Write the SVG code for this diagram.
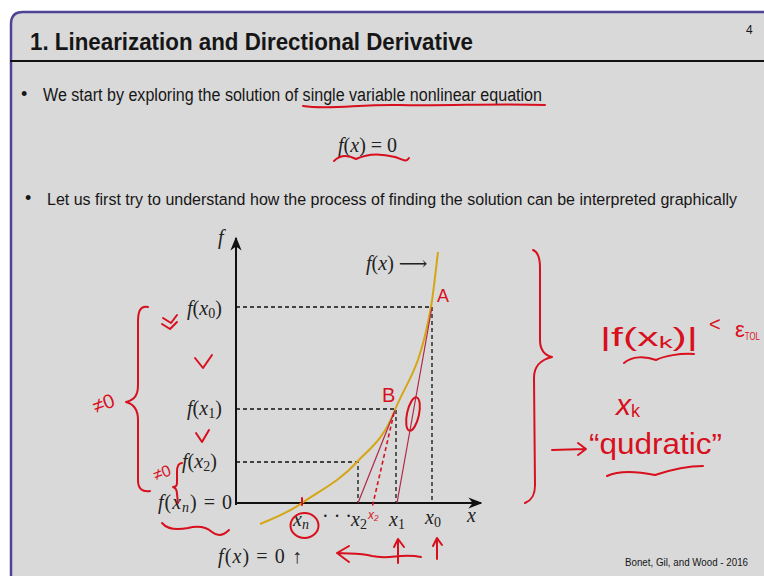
<svg xmlns="http://www.w3.org/2000/svg" width="764" height="576" viewBox="0 0 764 576">
<style>
.slide{font-family:"Liberation Sans Narrow","Liberation Sans",Arial,sans-serif;fill:#161616}
.m{font-family:"Liberation Serif","DejaVu Serif",serif;font-size:20px;fill:#222}
.i{font-style:italic}
.hw{font-family:"Liberation Sans","DejaVu Sans",sans-serif;fill:#d8101e}
.red{fill:none;stroke:#d8101e;stroke-width:2;stroke-linecap:round;stroke-linejoin:round}
.dash{fill:none;stroke:#111;stroke-width:1.3;stroke-dasharray:4 3}
.tan{fill:none;stroke:#b02848;stroke-width:1.2}
</style>
<defs>
<marker id="ah" viewBox="0 0 10 10" refX="9" refY="5" markerWidth="7" markerHeight="7" orient="auto-start-reverse">
<path d="M0 1 L10 5 L0 9 L3 5 Z" fill="#111"/>
</marker>
</defs>
<rect width="764" height="576" fill="#ffffff"/>
<path d="M10 576 L10 24 Q10 11 23 11 L764 11 L764 576 Z" fill="#d9d9d9"/>
<path d="M11 576 L11 24 Q11 12 23 12 L764 12" fill="none" stroke="#4f4597" stroke-width="2.5"/>
<line x1="10" y1="61" x2="764" y2="61" stroke="#111" stroke-width="2"/>
<g id="title">
<text class="slide" x="30" y="50" font-size="24" font-weight="bold" textLength="443" lengthAdjust="spacingAndGlyphs">1. Linearization and Directional Derivative</text>
<text class="slide" x="746" y="34" font-size="12">4</text>
</g>
<g id="bullets">
<text class="slide" x="21" y="100" font-size="18">•</text>
<text class="slide" x="43" y="101" font-size="18" textLength="499" lengthAdjust="spacingAndGlyphs">We start by exploring the solution of single variable nonlinear equation</text>
<text class="m" x="338" y="152" font-size="22"><tspan class="i">f</tspan>(<tspan class="i">x</tspan>) = 0</text>
<text class="slide" x="25" y="204" font-size="18">•</text>
<text class="slide" transform="scale(0.85 1)" x="55.3" y="205" font-size="17" textLength="811.8" lengthAdjust="spacingAndGlyphs">Let us first try to understand how the process of finding the solution can be interpreted graphically</text>
<text class="slide" x="625" y="566" font-size="11" textLength="123" lengthAdjust="spacingAndGlyphs">Bonet, Gil, and Wood - 2016</text>
</g>
<g id="axes">
<line x1="236" y1="505" x2="236" y2="238" stroke="#111" stroke-width="2" marker-end="url(#ah)"/>
<line x1="235" y1="503" x2="481" y2="503" stroke="#111" stroke-width="2" marker-end="url(#ah)"/>
</g>
<g id="guides">
<path class="dash" d="M236 307 H432 V503"/>
<path class="dash" d="M236 409 H396 V503"/>
<path class="dash" d="M236 462 H358 V503"/>
</g>
<g id="curve">
<path d="M260 524 C274 518.4 288 512.8 302 503 C320.3 490.2 338.7 482.2 357 462 C369.7 448.1 382.3 441.7 395 410 C407 380 419 374 431 307 C433.3 293.9 435.7 270.7 438 252" fill="none" stroke="#d6a514" stroke-width="2"/>
</g>
<g id="tangents">
<line class="tan" x1="432" y1="307" x2="397" y2="503"/>
<line class="tan" x1="395" y1="410" x2="358" y2="503"/>
</g>
<g id="labels">
<text class="m i" x="218" y="244">f</text>
<text class="m" x="366" y="270"><tspan class="i">f</tspan>(<tspan class="i">x</tspan>) ⟶</text>
<text class="m" x="187" y="315"><tspan class="i">f</tspan>(<tspan class="i">x</tspan><tspan font-size="14" dy="3">0</tspan><tspan dy="-3">)</tspan></text>
<text class="m" x="187" y="415"><tspan class="i">f</tspan>(<tspan class="i">x</tspan><tspan font-size="14" dy="3">1</tspan><tspan dy="-3">)</tspan></text>
<text class="m" x="182" y="468"><tspan class="i">f</tspan>(<tspan class="i">x</tspan><tspan font-size="14" dy="3">2</tspan><tspan dy="-3">)</tspan></text>
<text class="m" x="158" y="509" textLength="74"><tspan class="i">f</tspan>(<tspan class="i">x</tspan><tspan class="i" font-size="14" dy="3">n</tspan><tspan dy="-3">) = 0</tspan></text>
<text class="m" x="293" y="526"><tspan class="i">x</tspan><tspan class="i" font-size="14" dy="3">n</tspan></text>
<text class="m" x="322" y="523">· · ·</text>
<text class="m" x="351" y="526"><tspan class="i">x</tspan><tspan font-size="14" dy="3">2</tspan></text>
<text class="m" x="389" y="526"><tspan class="i">x</tspan><tspan font-size="14" dy="3">1</tspan></text>
<text class="m" x="425" y="524"><tspan class="i">x</tspan><tspan font-size="14" dy="3">0</tspan></text>
<text class="m i" x="467" y="522">x</text>
<text class="m" x="218" y="563" font-size="21" textLength="84"><tspan class="i">f</tspan>(<tspan class="i">x</tspan>) = 0 ↑</text>
</g>
<g id="annotations">
<path class="red" d="M303 106 C330 110 360 104 400 105 C450 106 500 103 545 105"/>
<path class="red" d="M334 161 C340 155 348 155 356 159 C366 154 380 153 395 157 C402 159 406 163 409 158"/>
<path class="red" d="M148 307 C140 305 138 312 138 322 L138 385 C138 396 134 400 126 402 C134 404 138 410 138 420 L138 480 C138 489 142 492 150 491"/>
<text class="hw" x="92" y="410" font-size="20" transform="rotate(-20 104 402)">≠0</text>
<path class="red" d="M163 318 L171 323 L177 315 M162 324 L170 329 L177 322"/>
<path class="red" d="M195 358 L203 368 L212 355"/>
<path class="red" d="M196 433 L202 442 L209 430"/>
<text class="hw" x="153" y="478" font-size="16" transform="rotate(-20 162 472)">≠0</text>
<path class="red" d="M182 463 C178 463 177 467 177 472 L177 483 C177 486 175 487 173 487 C176 488 177 490 177 494 L178 503"/>
<path class="red" d="M162 523 C168 530 178 530 188 528 C196 526 205 526 212 532 C218 537 224 535 229 530"/>
<ellipse class="red" cx="304.5" cy="525.5" rx="14" ry="12.5"/>
<path class="red" d="M302 498 L302 505"/>
<path d="M394 413 L372 508" fill="none" stroke="#d8101e" stroke-width="1.6" stroke-dasharray="4 3"/>
<text class="hw" x="368" y="519" font-size="12" font-style="italic">x₂</text>
<text class="hw" x="382" y="402" font-size="20">B</text>
<text class="hw" x="437" y="302" font-size="18">A</text>
<ellipse class="red" cx="413" cy="414" rx="6" ry="17" transform="rotate(12 413 414)"/>
<path class="red" d="M421 557 C400 553 390 560 372 556 C360 553 350 554 337 553 M349 546 L337 553 L349 562"/>
<path class="red" d="M398 563 L398 540 M394 547 L398 539 L404 547"/>
<path class="red" d="M437 559 L437 540 M433 546 L437 538 L442 545"/>
<path class="red" d="M533 250 C538 252 540 258 540 268 L540 340 C540 350 544 355 552 357 C540 360 534 366 534 378 L535 485 C535 495 532 500 525 503"/>
<text class="hw" x="600" y="346" font-size="26" textLength="98" lengthAdjust="spacingAndGlyphs">|f(x<tspan font-size="17" dy="2">k</tspan><tspan dy="-2">)|</tspan></text>
<text class="hw" x="709" y="331" font-size="20">&lt;</text>
<text class="hw" x="735" y="337" font-size="22">ε<tspan font-size="10" dy="3" textLength="15" lengthAdjust="spacingAndGlyphs">TOL</tspan></text>
<path class="red" d="M624 363 C632 356 645 356 656 360 C664 356 680 353 694 354"/>
<text class="hw" x="616" y="415" font-size="30" font-family="Liberation Serif, serif" font-style="italic">x<tspan font-size="18" dy="2" font-style="normal" font-family="Liberation Sans, sans-serif">k</tspan></text>
<path class="red" d="M552 450 L585 449 M578 443 L586 449 L578 455"/>
<text class="hw" x="589" y="454" font-size="29" textLength="133" lengthAdjust="spacingAndGlyphs">“qudratic”</text>
<path class="red" d="M607 476 C620 470 640 472 655 475 C670 470 690 466 703 466"/>
</g>
</svg>
